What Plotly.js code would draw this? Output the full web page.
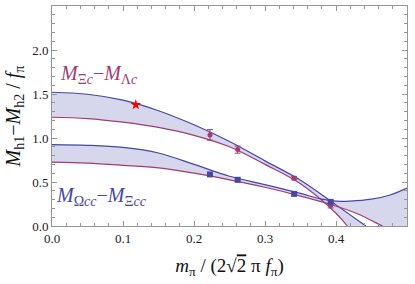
<!DOCTYPE html>
<html>
<head>
<meta charset="utf-8">
<script src="https://cdn.plot.ly/plotly-3.0.1.min.js"></script>
<style>html,body{margin:0;padding:0;background:#fff;}#chart{width:415px;height:284px;}</style>
</head>
<body>
<div id="chart"></div>
<script>
// Band 1: M_Xi_c - M_Lambda_c
var x1Upper = [0, 0.05, 0.1, 0.15, 0.2, 0.25, 0.3, 0.35, 0.4, 0.442];
var y1Upper = [1.52, 1.497, 1.43, 1.31, 1.15, 0.96, 0.74, 0.52, 0.24, 0];
var x1Lower = [0, 0.05, 0.1, 0.15, 0.2, 0.25, 0.3, 0.35, 0.4, 0.416];
var y1Lower = [1.236, 1.221, 1.18, 1.12, 1.03, 0.90, 0.70, 0.48, 0.145, 0];
// Band 2: M_Omega_cc - M_Xi_cc
var x2Upper = [0, 0.05, 0.1, 0.15, 0.2, 0.25, 0.3, 0.35, 0.38, 0.40, 0.42, 0.45, 0.475, 0.5];
var y2Upper = [0.925, 0.917, 0.893, 0.83, 0.70, 0.565, 0.47, 0.37, 0.305, 0.282, 0.283, 0.305, 0.35, 0.432];
var x2Lower = [0, 0.05, 0.1, 0.15, 0.2, 0.25, 0.3, 0.35, 0.39, 0.43, 0.465, 0.5];
var y2Lower = [0.725, 0.715, 0.69, 0.66, 0.60, 0.525, 0.44, 0.34, 0.25, 0.14, 0, -0.15];
// Lattice points
var xPts = [0.2225, 0.2615, 0.341, 0.3925];
var yPts1 = [1.035, 0.868, 0.544, 0.235];
var ePts1 = [0.06, 0.04, 0.02, 0.03];
var yPts2 = [0.586, 0.525, 0.365, 0.274];
var ePts2 = [0.012, 0.01, 0.012, 0.015];
// Physical point
var xPhys = [0.118];
var yPhys = [1.378];
// Ticks
var xTicks = [0, 0.1, 0.2, 0.3, 0.4, 0.5];
var xTickText = ['0.0', '0.1', '0.2', '0.3', '0.4', '0.5'];
var yTicks = [0, 0.5, 1.0, 1.5, 2.0, 2.5];
var yTickText = ['0.0', '0.5', '1.0', '1.5', '2.0', '2.5'];

var blue = 'rgb(70,70,165)';
var purple = 'rgb(160,60,115)';
var fillc = 'rgb(214,214,236)';

function band(xl, yl, xu, yu) {
  return [
    {x: xl, y: yl, mode: 'lines', line: {width: 0, shape: 'spline'}, hoverinfo: 'skip', showlegend: false},
    {x: xu, y: yu, mode: 'lines', fill: 'tonexty', fillcolor: fillc, line: {width: 0, shape: 'spline'}, hoverinfo: 'skip', showlegend: false}
  ];
}
function line(x, y, c) {
  return {x: x, y: y, mode: 'lines', line: {color: c, width: 1.2, shape: 'spline'}, showlegend: false};
}

var traces = [].concat(
  band(x1Lower, y1Lower, x1Upper, y1Upper),
  band(x2Lower, y2Lower, x2Upper, y2Upper),
  [line(x1Upper, y1Upper, blue), line(x1Lower, y1Lower, purple),
   line(x2Upper, y2Upper, blue), line(x2Lower, y2Lower, purple),
   {x: xPts, y: yPts1, mode: 'markers', marker: {color: purple, size: 5, symbol: 'circle'},
    error_y: {type: 'data', array: ePts1, color: purple, thickness: 1, width: 3}, showlegend: false},
   {x: xPts, y: yPts2, mode: 'markers', marker: {color: blue, size: 6, symbol: 'square'},
    error_y: {type: 'data', array: ePts2, color: blue, thickness: 1, width: 2}, showlegend: false},
   {x: xPhys, y: yPhys, mode: 'markers', marker: {color: 'red', size: 8, symbol: 'star'}, showlegend: false}
  ]);

var serif = "'Liberation Serif', 'DejaVu Serif', serif";
var frame = 'rgb(150,150,150)';
var layout = {
  width: 415, height: 284,
  margin: {l: 52, r: 8, t: 6, b: 58},
  paper_bgcolor: '#fff', plot_bgcolor: '#fff',
  font: {family: serif, size: 13, color: '#222'},
  xaxis: {
    range: [0, 0.5], tickvals: xTicks, ticktext: xTickText,
    showgrid: false, zeroline: false, showline: true, linecolor: frame, linewidth: 1, mirror: 'ticks',
    ticks: 'inside', ticklen: 5, tickcolor: frame, tickwidth: 1,
    minor: {dtick: 0.02, ticks: 'inside', ticklen: 3, tickcolor: frame, showgrid: false},
    tickfont: {family: serif, size: 13, color: '#222'},
    title: {text: '<i>m</i><sub>π</sub> / (2√<span style="text-decoration:overline">2</span> π <i>f</i><sub>π</sub>)', font: {family: serif, size: 19, color: '#111'}, standoff: 14}
  },
  yaxis: {
    range: [0, 2.5], tickvals: yTicks, ticktext: yTickText,
    showgrid: false, zeroline: false, showline: true, linecolor: frame, linewidth: 1, mirror: 'ticks',
    ticks: 'inside', ticklen: 5, tickcolor: frame, tickwidth: 1,
    minor: {dtick: 0.1, ticks: 'inside', ticklen: 3, tickcolor: frame, showgrid: false},
    tickfont: {family: serif, size: 13, color: '#222'},
    title: {text: '<i>M</i><sub>h1</sub>−<i>M</i><sub>h2</sub> / <i>f</i><sub>π</sub>', font: {family: serif, size: 20, color: '#111'}, standoff: 6}
  },
  annotations: [
    {x: 0.008, y: 1.72, xref: 'x', yref: 'y', xanchor: 'left', yanchor: 'middle', showarrow: false,
     text: '<i>M</i><sub>Ξ<i>c</i></sub>−<i>M</i><sub>Λ<i>c</i></sub>', font: {family: serif, size: 20, color: purple}},
    {x: 0.003, y: 0.34, xref: 'x', yref: 'y', xanchor: 'left', yanchor: 'middle', showarrow: false,
     text: '<i>M</i><sub>Ω<i>cc</i></sub>−<i>M</i><sub>Ξ<i>cc</i></sub>', font: {family: serif, size: 20, color: blue}}
  ]
};
Plotly.newPlot('chart', traces, layout, {staticPlot: true});
</script>
</body>
</html>
